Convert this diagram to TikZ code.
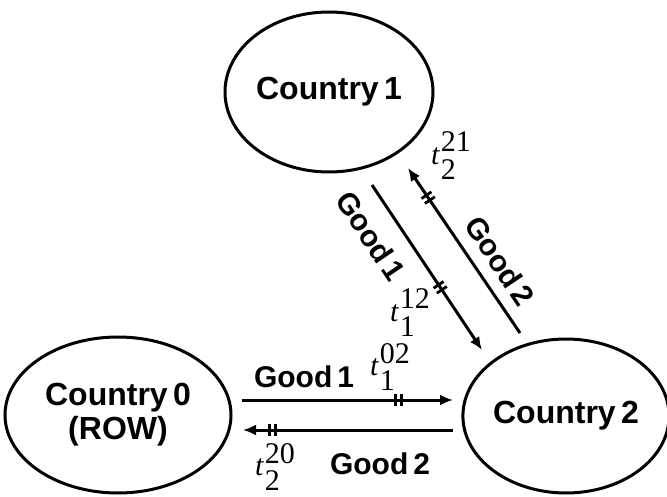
\documentclass[tikz,border=0pt]{standalone}
\usepackage{fontspec}
\setsansfont{Liberation Sans}
\newfontfamily\taxrm{Liberation Serif}
\usetikzlibrary{arrows.meta,decorations.markings,shapes.geometric}

% tariff t with its sub- and superscript at full size
\newcommand{\tariff}[2]{{\itshape t}\hspace{.04em}\raisebox{-.5em}{\rlap{#1}}\raisebox{.43em}{#2}}

\tikzset{
  country/.style={draw, ellipse, line width=3pt, inner sep=0pt, align=center,
    font=\sffamily\bfseries\fontsize{32}{34}\selectfont},
  flow/.style={line width=3pt, -{Latex[length=13pt,width=11pt]}},
  bars/.style={postaction={decorate}, decoration={markings,
    mark=at position #1 with {\draw[-, line width=2.8pt] (-3pt,-6pt) -- (-3pt,6pt) (3pt,-6pt) -- (3pt,6pt);}}},
  good/.style={font=\sffamily\bfseries\fontsize{30}{32}\selectfont},
  tax/.style={font=\taxrm\fontsize{30}{34}\selectfont, inner sep=0pt},
}

\begin{document}
\begin{tikzpicture}[x=1pt, y=-1pt]
	\useasboundingbox (0,0) rectangle (667,497);

	% the three countries
	\node[country, minimum width=208pt, minimum height=160pt] (c1) at (329,92) {Country\,1};
	\node[country, minimum width=226pt, minimum height=156pt] (c0) at (118,415) {Country\,0\\(ROW)};
	\node[country, minimum width=202pt, minimum height=154pt] (c2) at (566,416) {Country\,2};

	% ends of the trade flows
	\coordinate (g1a) at (242,400);
	\coordinate (g1b) at (453,400);
	\coordinate (g2a) at (453,430);
	\coordinate (g2b) at (243,430);
	\coordinate (d1a) at (372,185);
	\coordinate (d1b) at (482,350);
	\coordinate (d2a) at (520,333);
	\coordinate (d2b) at (408,168);

	\draw[flow, bars=0.74] (g1a) -- (g1b);
	\draw[flow, bars=0.86] (g2a) -- (g2b);
	\draw[flow, bars=0.62] (d1a) -- (d1b);
	\draw[flow, bars=0.82] (d2a) -- (d2b);

	% goods and tariffs
	\node[good] (lab01) at (304,377) {Good\,1};
	\node[tax] (tax02) at (390,367) {\tariff{1}{02}};
	\node[good] (lab02) at (380,464) {Good\,2};
	\node[tax] (tax20) at (275,467) {\tariff{2}{20}};

	\node[good, rotate=-56] (lab12) at (371,236) {Good\,1};
	\node[good, rotate=-56] (lab21) at (500,261) {Good\,2};
	\node[tax] (tax12) at (410,313) {\tariff{1}{12}};
	\node[tax] (tax21) at (451,156) {\tariff{2}{21}};
\end{tikzpicture}
\end{document}
